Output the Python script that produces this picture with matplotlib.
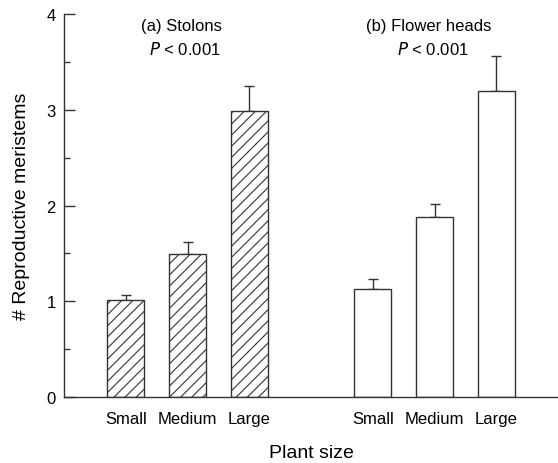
import matplotlib
matplotlib.use("Agg")
import matplotlib.pyplot as plt
from matplotlib.ticker import MultipleLocator

plt.rcParams['font.family'] = ['Liberation Sans', 'DejaVu Sans']
plt.rcParams['hatch.linewidth'] = 0.8
plt.rcParams['hatch.color'] = '#333333'

sizes = ["Small", "Medium", "Large"]
stolons = [1.01, 1.49, 2.99]
stolons_se = [0.06, 0.13, 0.26]
flowers = [1.13, 1.88, 3.20]
flowers_se = [0.10, 0.14, 0.36]

stolon_pos = [1, 2, 3]
flower_pos = [5, 6, 7]

fig = plt.figure(figsize=(5.58, 4.64), dpi=100)
ax = fig.add_axes([0.1147, 0.1422, 0.8853, 0.8255])

edge = '#333333'
ax.bar(stolon_pos, stolons, width=0.6, color='white', edgecolor=edge,
       linewidth=1.0, hatch='///', zorder=2)
ax.bar(flower_pos, flowers, width=0.6, color='white', edgecolor=edge,
       linewidth=1.0, zorder=2)

# only the upper half of the error bars is drawn
ax.errorbar(stolon_pos, stolons, yerr=[[0] * 3, stolons_se], fmt='none',
            ecolor=edge, elinewidth=1.0, capsize=3.5, capthick=1.0, zorder=1)
ax.errorbar(flower_pos, flowers, yerr=[[0] * 3, flowers_se], fmt='none',
            ecolor=edge, elinewidth=1.0, capsize=3.5, capthick=1.0, zorder=1)

ax.set_xlim(0, 8)
ax.set_ylim(0, 4)
ax.set_xticks(stolon_pos + flower_pos)
ax.set_xticklabels(sizes + sizes, fontsize=12)
ax.tick_params(axis='x', length=0, pad=10)
ax.yaxis.set_major_locator(MultipleLocator(1))
ax.yaxis.set_minor_locator(MultipleLocator(0.5))
ax.tick_params(axis='y', which='major', direction='in', length=8,
               width=1.0, labelsize=12, pad=6, color=edge)
ax.tick_params(axis='y', which='minor', direction='in', length=4,
               width=1.0, color=edge)

for side in ['top', 'right']:
    ax.spines[side].set_visible(False)
for side in ['left', 'bottom']:
    ax.spines[side].set_color(edge)
    ax.spines[side].set_linewidth(1.0)

ax.set_ylabel("# Reproductive meristems", fontsize=14, labelpad=12)
ax.set_xlabel("Plant size", fontsize=14, labelpad=13)

ax.text(1.9, 3.88, "(a) Stolons", fontsize=12, ha='center', va='center')
ax.text(1.95, 3.64, "$P$ < 0.001", fontsize=12, ha='center', va='center')
ax.text(5.9, 3.88, "(b) Flower heads", fontsize=12, ha='center', va='center')
ax.text(5.98, 3.64, "$P$ < 0.001", fontsize=12, ha='center', va='center')

plt.savefig("out.png", dpi=100)
